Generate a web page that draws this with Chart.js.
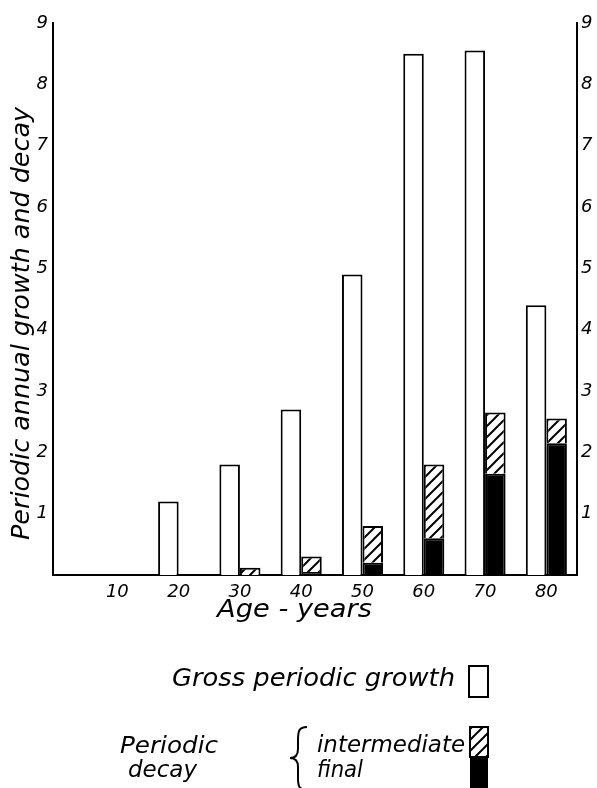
<!DOCTYPE html>
<html>
<head>
<meta charset="utf-8">
<script src="https://cdn.jsdelivr.net/npm/chart.js@4.4.1/dist/chart.umd.min.js"></script>
<style>
  html, body { margin: 0; padding: 0; background: #fff; }
  #wrap { width: 597px; height: 788px; }
</style>
</head>
<body>
<div id="wrap"><canvas id="chart" width="597" height="788"></canvas></div>
<script>
// --- DATA ---
const ages = [10, 20, 30, 40, 50, 60, 70, 80];
const grossGrowth = [null, 1.2, 1.8, 2.7, 4.9, 8.5, 8.55, 4.4];
const finalDecay = [null, null, null, 0.05, 0.2, 0.6, 1.65, 2.15];
const intermediateDecay = [null, null, 0.12, 0.25, 0.6, 1.2, 1.0, 0.4];
const yTicks = [1, 2, 3, 4, 5, 6, 7, 8, 9];

const FONT = "'DejaVu Sans', sans-serif";
const tickFont = { family: FONT, size: 18, style: 'italic' };

// diagonal hatch for the intermediate decay
function makeHatch() {
  const c = document.createElement('canvas');
  c.width = 11; c.height = 11;
  const g = c.getContext('2d');
  g.fillStyle = '#fff';
  g.fillRect(0, 0, 11, 11);
  g.strokeStyle = '#000';
  g.lineWidth = 2;
  g.beginPath();
  g.moveTo(-2, 13); g.lineTo(13, -2);
  g.moveTo(-3, 3); g.lineTo(3, -3);
  g.moveTo(8, 14); g.lineTo(14, 8);
  g.stroke();
  return g.createPattern(c, 'repeat');
}
const hatch = makeHatch();

function pts(vals) {
  return ages.map((a, i) => ({ x: a, y: vals[i] }));
}

// draws text stretched horizontally to a given width
function textTo(ctx, str, x, y, width) {
  const w = ctx.measureText(str).width;
  ctx.save();
  ctx.translate(x, y);
  ctx.scale(width / w, 1);
  ctx.fillText(str, 0, 0);
  ctx.restore();
}

const textPlugin = {
  id: 'texts',
  afterDraw(chart) {
    const ctx = chart.ctx;
    ctx.save();
    ctx.fillStyle = '#000';
    ctx.strokeStyle = '#000';
    ctx.textAlign = 'left';
    ctx.textBaseline = 'alphabetic';

    // y axis title
    ctx.save();
    ctx.translate(29, 540);
    ctx.rotate(-Math.PI / 2);
    ctx.font = `italic 24px ${FONT}`;
    textTo(ctx, 'Periodic annual growth and decay', 0, 0, 433);
    ctx.restore();

    // x axis title
    ctx.font = `italic 25px ${FONT}`;
    textTo(ctx, 'Age - years', 217, 617, 155);

    // legend
    ctx.font = `italic 24px ${FONT}`;
    textTo(ctx, 'Gross periodic growth', 172, 686, 283);
    ctx.lineWidth = 2;
    ctx.fillStyle = '#fff';
    ctx.fillRect(469, 666, 19, 31);
    ctx.strokeRect(469, 666, 19, 31);

    ctx.fillStyle = '#000';
    ctx.font = `italic 23px ${FONT}`;
    textTo(ctx, 'Periodic', 120, 753, 98);
    textTo(ctx, 'decay', 128, 777, 69);
    textTo(ctx, 'intermediate', 317, 752, 148);
    textTo(ctx, 'final', 317, 777, 46);

    // brace
    ctx.lineWidth = 2;
    ctx.beginPath();
    ctx.moveTo(307, 727);
    ctx.bezierCurveTo(299, 727, 298, 731, 298, 740);
    ctx.lineTo(298, 749);
    ctx.bezierCurveTo(298, 755, 295, 758, 290, 758);
    ctx.bezierCurveTo(295, 758, 298, 761, 298, 767);
    ctx.lineTo(298, 778);
    ctx.bezierCurveTo(298, 786, 299, 790, 307, 790);
    ctx.stroke();

    // decay boxes
    ctx.fillStyle = hatch;
    ctx.fillRect(470, 727, 18, 30);
    ctx.strokeRect(470, 727, 18, 30);
    ctx.fillStyle = '#000';
    ctx.fillRect(470, 757, 18, 32);
    ctx.restore();
  }
};

new Chart(document.getElementById('chart'), {
  type: 'bar',
  data: {
    datasets: [
      {
        label: 'Gross periodic growth',
        data: pts(grossGrowth),
        stack: 'gross',
        backgroundColor: '#fff',
        borderColor: '#000',
        borderWidth: 2
      },
      {
        label: 'final',
        data: pts(finalDecay),
        stack: 'decay',
        backgroundColor: '#000',
        borderColor: '#000',
        borderWidth: 2
      },
      {
        label: 'intermediate',
        data: pts(intermediateDecay),
        stack: 'decay',
        backgroundColor: hatch,
        borderColor: '#000',
        borderWidth: 2
      }
    ]
  },
  options: {
    responsive: false,
    animation: false,
    devicePixelRatio: 1,
    categoryPercentage: 0.67,
    barPercentage: 1,
    layout: { padding: { top: 23, left: 0, right: 0, bottom: 0 } },
    plugins: {
      legend: { display: false },
      tooltip: { enabled: false }
    },
    scales: {
      x: {
        type: 'linear',
        min: -0.5,
        max: 85,
        offset: false,
        grid: { display: false, drawTicks: false },
        border: { display: true, color: '#000', width: 2 },
        ticks: { font: tickFont, color: '#000', padding: 7, maxRotation: 0, autoSkip: false },
        afterBuildTicks: s => { s.ticks = ages.map(v => ({ value: v })); },
        afterFit: s => { s.height = 213; s.paddingLeft = 0; s.paddingRight = 0; }
      },
      y: {
        position: 'left',
        min: 0,
        max: 9,
        stacked: true,
        grid: { display: false, drawTicks: false },
        border: { display: true, color: '#000', width: 2 },
        ticks: { font: tickFont, color: '#000', padding: 5 },
        afterBuildTicks: s => { s.ticks = yTicks.map(v => ({ value: v })); },
        afterFit: s => { s.width = 53; s.paddingTop = 0; s.paddingBottom = 0; }
      },
      y2: {
        position: 'right',
        min: 0,
        max: 9,
        grid: { display: false, drawTicks: false },
        border: { display: true, color: '#000', width: 2 },
        ticks: { font: tickFont, color: '#000', padding: 4 },
        afterBuildTicks: s => { s.ticks = yTicks.map(v => ({ value: v })); },
        afterFit: s => { s.width = 20; s.paddingTop = 0; s.paddingBottom = 0; }
      }
    }
  },
  plugins: [textPlugin]
});
</script>
</body>
</html>
